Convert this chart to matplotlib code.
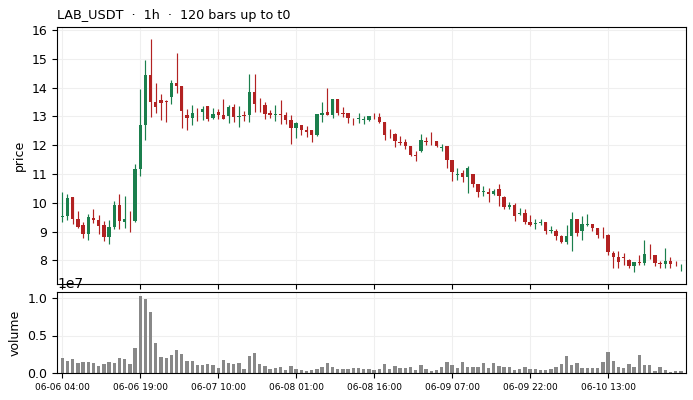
import matplotlib
matplotlib.use("Agg")
import matplotlib.pyplot as plt
import numpy as np

# OHLC per hourly bar
opens = [9.51, 9.53, 10.20, 9.44, 9.23, 8.90, 9.47, 9.40, 9.23, 8.80,
         9.17, 9.92, 9.34, 9.37, 9.38, 11.16, 12.70, 14.43, 13.51, 13.57,
         13.54, 13.66, 14.14, 14.06, 13.06, 12.93, 13.15, 13.14, 13.37, 12.93,
         13.15, 13.06, 13.00, 13.31, 12.99, 13.02, 13.06, 13.84, 13.41, 13.38,
         13.10, 13.03, 13.08, 13.05, 12.87, 12.61, 12.70, 12.51, 12.53, 12.34,
         13.05, 13.15, 13.06, 13.59, 13.12, 13.11, 12.91, 12.92, 12.88, 12.87,
         13.02, 12.99, 12.82, 12.39, 12.39, 12.11, 12.10, 11.96, 11.66, 11.79,
         12.14, 12.12, 12.13, 11.90, 11.96, 11.48, 10.95, 11.02, 10.90, 10.99,
         10.64, 10.38, 10.37, 10.31, 10.46, 10.19, 9.86, 9.92, 9.60, 9.63,
         9.33, 9.27, 9.28, 9.33, 9.02, 9.02, 8.85, 8.64, 8.83, 9.42,
         9.03, 9.24, 9.26, 9.12, 8.92, 8.89, 8.25, 8.13, 8.11, 8.00,
         7.81, 7.96, 7.90, 8.23, 8.18, 7.90, 7.87, 7.99, 7.88, 7.87]
highs = [10.38, 10.32, 10.20, 9.73, 9.32, 9.60, 9.77, 9.56, 9.38, 9.40,
         10.05, 10.32, 10.22, 9.70, 11.36, 13.94, 14.95, 15.69, 14.14, 13.77,
         13.56, 14.26, 15.21, 14.06, 13.25, 13.39, 13.29, 13.36, 13.37, 13.30,
         13.27, 13.60, 13.38, 13.43, 13.36, 13.17, 14.46, 14.46, 13.63, 13.49,
         13.22, 13.39, 13.56, 13.14, 13.05, 12.82, 12.70, 12.67, 12.53, 13.08,
         13.48, 13.99, 13.59, 13.59, 13.33, 13.11, 12.95, 13.13, 13.01, 13.00,
         13.13, 13.10, 12.82, 12.55, 12.41, 12.33, 12.21, 11.96, 11.81, 12.37,
         12.28, 12.45, 12.13, 12.05, 11.96, 11.48, 11.19, 11.14, 11.28, 10.99,
         10.64, 10.57, 10.51, 10.46, 10.65, 10.25, 10.03, 9.98, 9.81, 9.77,
         9.58, 9.42, 9.44, 9.33, 9.21, 9.08, 8.89, 9.22, 9.68, 9.42,
         9.53, 9.60, 9.26, 9.12, 9.16, 8.92, 8.34, 8.34, 8.24, 8.06,
         7.96, 8.18, 8.70, 8.56, 8.18, 7.97, 8.43, 8.10, 7.97, 7.88]
lows = [9.32, 9.41, 9.25, 9.11, 8.77, 8.72, 9.29, 8.92, 8.67, 8.57,
        9.09, 9.09, 9.11, 9.00, 9.32, 10.93, 12.17, 12.97, 13.11, 12.86,
        12.80, 13.43, 13.80, 12.60, 12.54, 12.69, 12.83, 12.88, 12.84, 12.90,
        12.90, 12.91, 12.77, 12.82, 12.64, 12.85, 12.82, 13.15, 13.15, 12.89,
        12.93, 12.85, 12.73, 12.73, 12.04, 12.25, 12.34, 12.28, 12.11, 12.31,
        12.82, 13.06, 12.95, 13.03, 12.99, 12.76, 12.70, 12.78, 12.73, 12.83,
        12.90, 12.77, 12.17, 12.25, 11.93, 11.99, 11.85, 11.63, 11.44, 11.77,
        12.02, 11.99, 11.94, 11.79, 11.21, 10.74, 10.79, 10.73, 10.33, 10.56,
        10.20, 10.25, 10.03, 10.27, 9.89, 9.77, 9.77, 9.35, 9.58, 9.25,
        9.19, 9.10, 9.22, 8.90, 8.94, 8.71, 8.60, 8.56, 8.33, 8.85,
        8.72, 9.20, 9.01, 8.78, 8.79, 8.20, 7.72, 7.75, 7.85, 7.75,
        7.58, 7.84, 7.85, 8.04, 7.81, 7.75, 7.75, 7.75, 7.80, 7.64]
closes = [9.53, 10.18, 9.44, 9.15, 8.90, 9.49, 9.41, 9.20, 8.80, 9.17,
          9.92, 9.38, 9.43, 9.36, 11.16, 12.70, 14.43, 13.51, 13.34, 13.46,
          13.48, 14.14, 14.06, 13.20, 12.93, 13.12, 13.14, 13.27, 12.92, 13.08,
          13.06, 12.92, 13.31, 12.96, 13.00, 13.01, 13.84, 13.43, 13.38, 13.08,
          13.05, 13.09, 13.06, 12.87, 12.61, 12.76, 12.51, 12.47, 12.34, 13.08,
          13.10, 13.06, 13.59, 13.13, 13.08, 12.95, 12.89, 12.95, 12.90, 13.00,
          13.00, 12.82, 12.34, 12.37, 12.13, 12.09, 11.96, 11.65, 11.64, 12.17,
          12.12, 12.10, 11.96, 11.94, 11.48, 11.05, 11.00, 10.90, 11.22, 10.64,
          10.38, 10.42, 10.31, 10.40, 10.23, 9.85, 9.92, 9.55, 9.64, 9.33,
          9.23, 9.29, 9.34, 9.02, 9.05, 8.85, 8.64, 8.83, 9.42, 8.94,
          9.26, 9.26, 9.12, 8.89, 8.90, 8.28, 8.13, 7.96, 8.09, 7.81,
          7.96, 7.90, 8.22, 8.21, 7.91, 7.86, 7.99, 7.87, 7.87, 7.88]
# volume in millions
volume_m = [2.00, 1.55, 1.90, 1.37, 1.50, 1.50, 1.37, 0.97, 1.24, 1.50,
            1.37, 2.00, 1.90, 1.24, 3.36, 10.27, 9.87, 8.14, 3.94, 2.17,
            2.04, 2.43, 3.10, 2.57, 1.64, 1.64, 1.10, 1.10, 1.24, 1.10,
            0.71, 1.77, 1.37, 1.24, 1.37, 0.58, 2.30, 2.70, 1.24, 0.97,
            0.58, 0.71, 0.84, 0.44, 0.97, 0.58, 0.44, 0.31, 0.44, 0.58,
            0.84, 1.37, 0.84, 0.58, 0.55, 0.58, 0.62, 0.71, 0.49, 0.58,
            0.35, 0.49, 1.24, 0.58, 0.97, 0.71, 0.62, 0.84, 0.44, 1.10,
            0.58, 0.31, 0.35, 0.84, 1.50, 1.10, 0.71, 1.50, 0.84, 0.84,
            0.84, 1.37, 0.71, 1.37, 0.97, 0.84, 0.84, 0.44, 0.58, 0.84,
            0.58, 0.58, 0.44, 0.44, 0.58, 0.84, 1.24, 2.30, 1.10, 1.37,
            0.71, 0.71, 0.71, 0.71, 1.50, 2.83, 1.64, 0.84, 0.71, 1.24,
            0.84, 2.43, 1.10, 1.10, 0.31, 0.84, 0.44, 0.18, 0.31, 0.31]

start = np.datetime64("2024-06-06T04:00")
n = len(opens)
times = start + np.arange(n) * np.timedelta64(1, "h")
tick_idx = list(range(0, n, 15))
tick_labels = [str(times[i]).replace("T", " ")[5:16] for i in tick_idx]

o = np.array(opens)
h = np.array(highs)
l = np.array(lows)
c = np.array(closes)
vol = np.array(volume_m) * 1e6
x = np.arange(n)

GREEN = "#1b7f4d"
RED = "#b22222"
colors = np.where(c >= o, GREEN, RED)

fig = plt.figure(figsize=(6.93, 4.0), dpi=100)
ax = fig.add_axes([0.0823, 0.29, 0.9077, 0.6425])
axv = fig.add_axes([0.0823, 0.0675, 0.9077, 0.2025], sharex=ax)

# wicks then bodies
ax.vlines(x, l, h, colors=colors, linewidth=0.85, zorder=2)
body_h = np.maximum(np.abs(c - o), 0.02)
ax.bar(x, body_h, bottom=np.minimum(o, c), width=0.65, color=colors,
       linewidth=0, zorder=3)

ax.set_xlim(-1, 120)
ax.set_ylim(7.18, 16.1)
ax.set_yticks(range(8, 17))
ax.set_ylabel("price", fontsize=9)
ax.tick_params(axis="y", labelsize=9)
ax.tick_params(axis="x", labelbottom=False)
ax.grid(True, color="#efefef", linewidth=0.8)
ax.set_axisbelow(True)
ax.set_title("LAB_USDT  ·  1h  ·  120 bars up to t0", loc="left", fontsize=9.2)

axv.bar(x, vol, width=0.65, color="#888888", linewidth=0)
axv.set_ylim(0, 1.08e7)
axv.set_yticks([0, 0.5e7, 1.0e7])
axv.set_ylabel("volume", fontsize=9)
axv.tick_params(axis="y", labelsize=9)
axv.set_xticks(tick_idx)
axv.set_xticklabels(tick_labels, fontsize=6.5)
axv.grid(True, color="#efefef", linewidth=0.8)
axv.set_axisbelow(True)

fig.savefig("out.png", dpi=100)
